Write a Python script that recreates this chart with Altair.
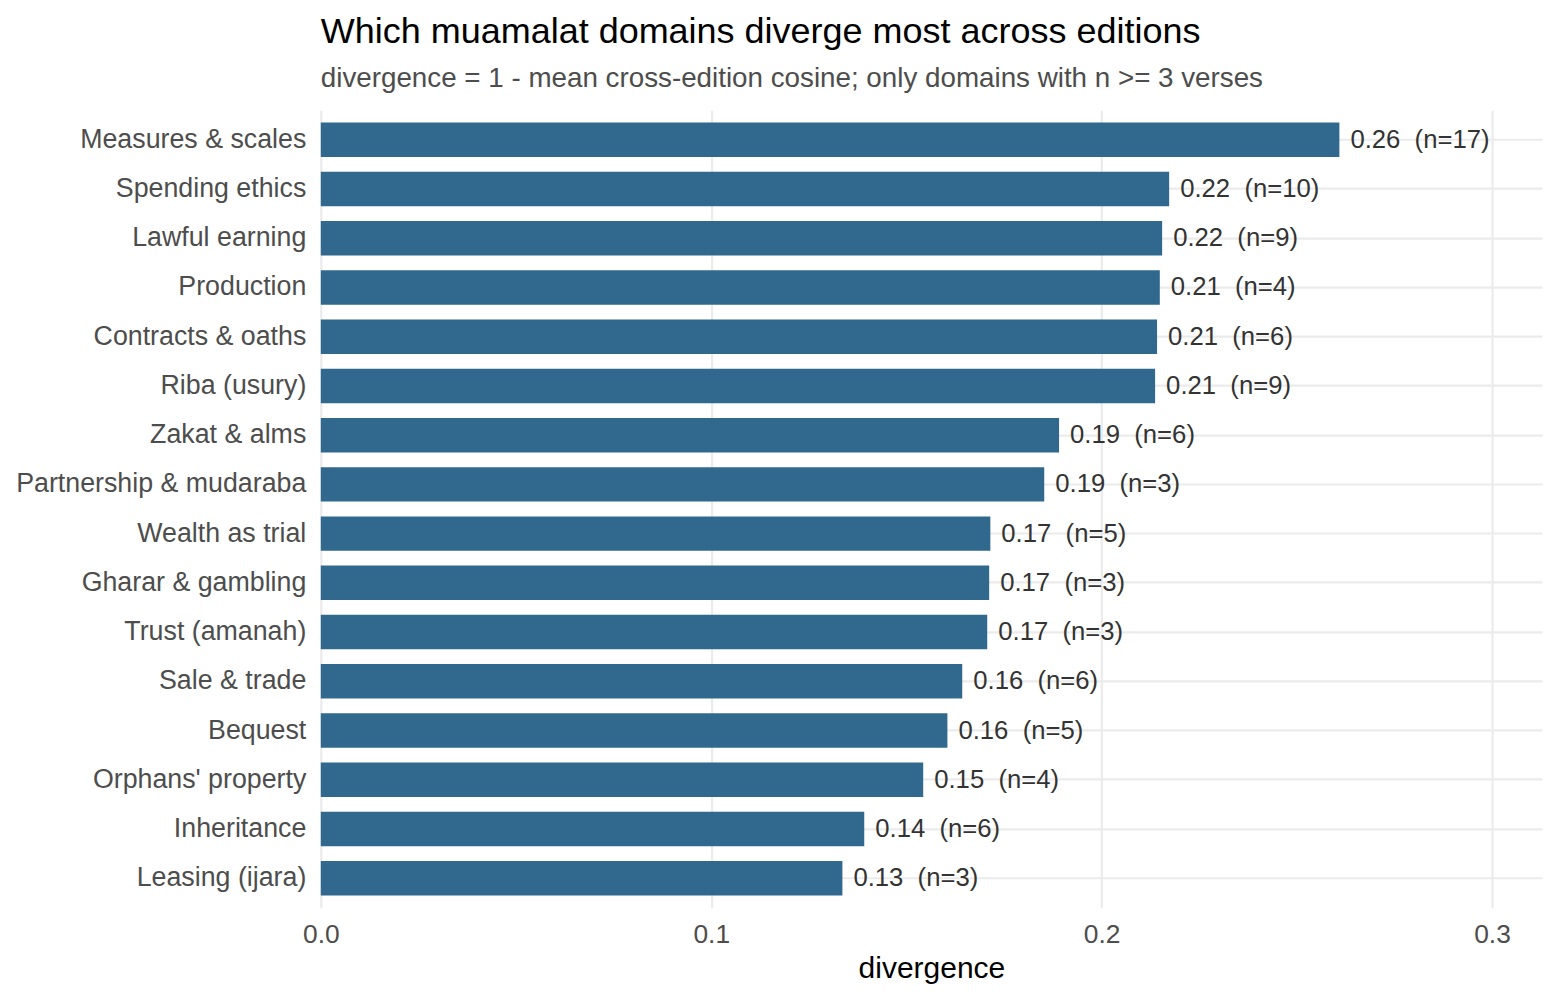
import altair as alt
import pandas as pd

domains = [
    "Measures & scales", "Spending ethics", "Lawful earning", "Production",
    "Contracts & oaths", "Riba (usury)", "Zakat & alms", "Partnership & mudaraba",
    "Wealth as trial", "Gharar & gambling", "Trust (amanah)", "Sale & trade",
    "Bequest", "Orphans' property", "Inheritance", "Leasing (ijara)",
]
divergence = [
    0.2609, 0.2173, 0.2155, 0.2149, 0.2142, 0.2137, 0.1891, 0.1853,
    0.1715, 0.1712, 0.1707, 0.1643, 0.1605, 0.1543, 0.1392, 0.1336,
]
n_verses = [17, 10, 9, 4, 6, 9, 6, 3, 5, 3, 3, 6, 5, 4, 6, 3]

df = pd.DataFrame({"domain": domains, "divergence": divergence, "n": n_verses})
df["label"] = [f"{v:.2f}\u00a0 (n={k})" for v, k in zip(divergence, n_verses)]

FONT = "Liberation Sans"

y_enc = alt.Y(
    "domain:N",
    sort=domains,
    title=None,
    scale=alt.Scale(paddingInner=0.3, paddingOuter=0.25),
    axis=alt.Axis(
        ticks=False, domain=False, labelFont=FONT, labelFontSize=26.8,
        labelColor="#4d4d4d", labelPadding=15, labelLimit=0, grid=True,
        gridColor="#ebebeb", gridWidth=2.2,
    ),
)
x_enc = alt.X(
    "divergence:Q",
    title="divergence",
    scale=alt.Scale(domain=[0, 0.3128], nice=False, zero=True),
    axis=alt.Axis(
        values=[0.0, 0.1, 0.2, 0.3], format=".1f", ticks=False, domain=False,
        labelFont=FONT, labelFontSize=26.4, labelColor="#4d4d4d", labelPadding=14,
        labelFlush=False,
        gridColor="#ebebeb", gridWidth=2.2,
        titleFont=FONT, titleFontSize=30, titleFontWeight="normal",
        titleColor="#000000", titlePadding=5,
    ),
)

bars = alt.Chart(df).mark_bar(color="#31688E").encode(y=y_enc, x=x_enc)
labels = alt.Chart(df).mark_text(
    align="left", baseline="middle", dx=11, font=FONT, fontSize=25.7, color="#333333"
).encode(y=alt.Y("domain:N", sort=domains), x="divergence:Q", text="label:N")

chart = (
    alt.layer(bars, labels)
    .properties(
        width=1222,
        height=798,
        title=alt.TitleParams(
            text="Which muamalat domains diverge most across editions",
            subtitle="divergence = 1 - mean cross-edition cosine; only domains with n >= 3 verses",
            anchor="start",
            frame="group",
            font=FONT,
            fontSize=36,
            fontWeight="normal",
            color="#000000",
            subtitleFont=FONT,
            subtitleFontSize=27.8,
            subtitleColor="#4d4d4d",
            subtitlePadding=14,
            offset=16,
        ),
        autosize=alt.AutoSizeParams(type="none"),
        padding={"left": 313, "top": 102, "right": 10, "bottom": 80},
    )
    .configure_view(stroke=None)
)

chart.save("out.html", embed_options={"renderer": "svg", "actions": False})
